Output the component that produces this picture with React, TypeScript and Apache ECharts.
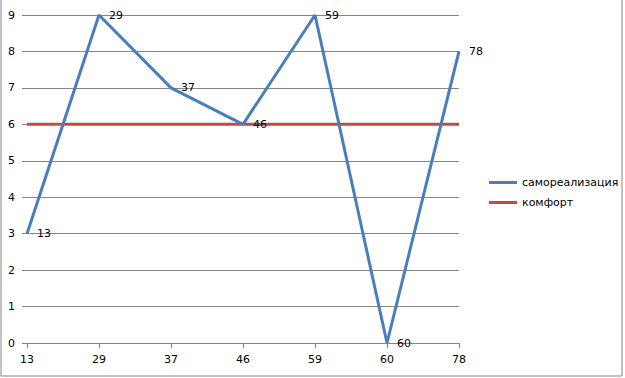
import React, { useEffect, useRef } from "react";
import * as echarts from "echarts";

const categories = ["13", "29", "37", "46", "59", "60", "78"];
const selfRealization = [3, 9, 7, 6, 9, 0, 8];
const comfort = [6, 6, 6, 6, 6, 6, 6];
const seriesNames = ["самореализация", "комфорт"];
const seriesColors = ["#4a7ebb", "#be4b48"];

export default function App() {
  const ref = useRef<HTMLDivElement>(null);
  useEffect(() => {
    if (!ref.current) return;
    const chart = echarts.init(ref.current, null, { renderer: "svg" });
    const font = "DejaVu Sans";
    chart.setOption({
      animation: false,
      backgroundColor: "#ffffff",
      textStyle: { fontFamily: font, fontSize: 11, color: "#000" },
      grid: { left: 27, right: 166, top: 15, bottom: 35 },
      legend: {
        orient: "vertical",
        left: 484,
        top: 172,
        itemWidth: 28,
        itemHeight: 3,
        itemGap: 9,
        icon: "rect",
        textStyle: { fontFamily: font, fontSize: 11, color: "#000" },
        data: seriesNames.map((n, i) => ({
          name: n,
          itemStyle: { color: seriesColors[i], opacity: 1 },
        })),
      },
      xAxis: {
        type: "category",
        data: categories,
        boundaryGap: false,
        axisLine: { lineStyle: { color: "#868686", width: 1 } },
        axisTick: { show: true, length: 5, lineStyle: { color: "#868686" } },
        axisLabel: { margin: 11, color: "#000", fontFamily: font, fontSize: 11 },
      },
      yAxis: {
        type: "value",
        min: 0,
        max: 9,
        interval: 1,
        axisLine: { show: false },
        axisTick: { show: true, length: 5, lineStyle: { color: "#868686" } },
        splitLine: { lineStyle: { color: "#868686", width: 1 } },
        axisLabel: { margin: 12, color: "#000", fontFamily: font, fontSize: 11 },
      },
      series: [
        {
          name: seriesNames[0],
          type: "line",
          data: selfRealization,
          color: seriesColors[0],
          lineStyle: { width: 3, color: seriesColors[0] },
          symbol: "circle",
          symbolSize: 0.01,
          showSymbol: true,
          itemStyle: { color: seriesColors[0] },
          label: {
            show: true,
            position: "right",
            distance: 10,
            formatter: "{b}",
            color: "#000",
            fontFamily: font,
            fontSize: 11,
          },
          z: 3,
        },
        {
          name: seriesNames[1],
          type: "line",
          data: comfort,
          color: seriesColors[1],
          lineStyle: { width: 3, color: seriesColors[1] },
          itemStyle: { color: seriesColors[1] },
          symbol: "none",
          z: 2,
        },
      ],
      graphic: [
        {
          type: "polyline",
          shape: { points: [[1, 0], [1, 376], [622, 376], [622, 0]] },
          style: { stroke: "#868686", fill: "none", lineWidth: 1 },
        },
      ],
    });
    return () => chart.dispose();
  }, []);
  return (
    <div
      ref={ref}
      style={{ position: "fixed", left: 0, top: 0, width: 625, height: 378 }}
    />
  );
}
